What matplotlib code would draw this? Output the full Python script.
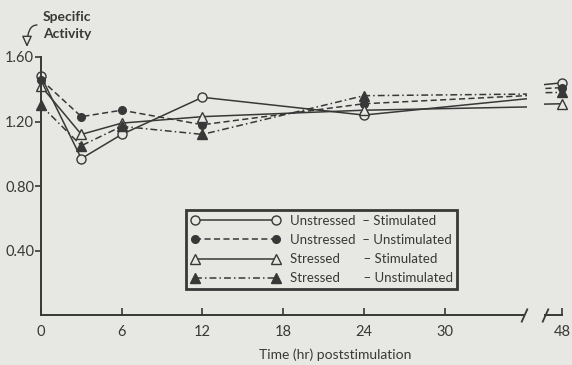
import matplotlib
matplotlib.use("Agg")
import matplotlib.pyplot as plt
from matplotlib.patches import FancyArrowPatch

BG = "#e7e7e3"
INK = "#383838"

plt.rcParams.update({
    "font.family": ["Lato", "DejaVu Sans"],
    "text.color": INK,
    "axes.edgecolor": INK,
    "xtick.color": INK,
    "ytick.color": INK,
})

# hours poststimulation (48 h sits beyond the axis break)
hours = [0, 3, 6, 12, 24, 48]
unstressed_stim = [1.48, 0.97, 1.12, 1.35, 1.24, 1.44]
unstressed_unstim = [1.46, 1.23, 1.27, 1.18, 1.31, 1.41]
stressed_stim = [1.42, 1.12, 1.19, 1.23, 1.27, 1.31]
stressed_unstim = [1.30, 1.05, 1.17, 1.12, 1.36, 1.38]

labels = [
    "Unstressed  \u2013 Stimulated",
    "Unstressed  \u2013 Unstimulated",
    "Stressed       \u2013 Stimulated",
    "Stressed       \u2013 Unstimulated",
]
series = [unstressed_stim, unstressed_unstim, stressed_stim, stressed_unstim]
styles = [
    dict(marker="o", ls="-", mfc=BG),
    dict(marker="o", ls=(0, (4, 2.2)), mfc=INK, ms=5.5),
    dict(marker="^", ls="-", mfc=BG),
    dict(marker="^", ls=(0, (4.5, 2, 1, 2)), mfc=INK),
]
yticks = [0.40, 0.80, 1.20, 1.60]
xticks = [0, 6, 12, 18, 24, 30]

W, H = 572, 365
fig = plt.figure(figsize=(W / 100, H / 100), dpi=100, facecolor=BG)

# pixel calibration of the scan
px_per_hr = 13.45
x0_px, y0_px, px_per_unit = 41, 315, 161.25
brk_px, ax2_px, h48_px = 527, 544, 562

ax1 = fig.add_axes([0, 0, brk_px / W, 1])
ax2 = fig.add_axes([ax2_px / W, 0, (W - ax2_px) / W, 1], sharey=ax1)
for ax in (ax1, ax2):
    ax.set_facecolor("none")
    for s in ("top", "right"):
        ax.spines[s].set_visible(False)
    ax.spines["bottom"].set_position(("data", 0))
    ax.spines["bottom"].set_linewidth(1.4)
    ax.tick_params(axis="x", direction="in", length=5, width=1.2, labelsize=10.5, pad=7)

ax1.set_xlim(-x0_px / px_per_hr, (brk_px - x0_px) / px_per_hr)
ax2.set_xlim(48 - (h48_px - ax2_px) / px_per_hr, 48 + (W - h48_px) / px_per_hr)
ax1.set_ylim((y0_px - H) / px_per_unit, y0_px / px_per_unit)

handles = []
for ys, st, lab in zip(series, styles, labels):
    kw = dict(color=INK, lw=1.1, ms=st.get("ms", 6.5), mec=INK, mew=1.0,
              marker=st["marker"], ls=st["ls"], mfc=st["mfc"])
    h, = ax1.plot(hours, ys, label=lab, **kw)
    ax2.plot(hours, ys, **kw)
    handles.append(h)

ax1.spines["left"].set_position(("data", 0))
ax1.spines["left"].set_bounds(0, 1.60)
ax1.spines["left"].set_linewidth(1.4)
ax1.spines["bottom"].set_bounds(0, 35.9)
ax1.set_yticks(yticks)
ax1.set_yticklabels([f"{v:.2f}" for v in yticks])
ax1.tick_params(axis="y", direction="out", length=4, width=1.2, labelsize=10.5, pad=1)
ax1.set_xticks(xticks)

ax2.spines["left"].set_visible(False)
ax2.spines["bottom"].set_bounds(46.7, 48)
ax2.tick_params(axis="y", left=False, labelleft=False)
ax2.set_xticks([48])

# axis break marks
brk = [(-0.45, -1), (0.45, 1)]
ax1.plot(35.9, 0, marker=brk, ms=10, mew=1.3, color=INK, clip_on=False)
ax2.plot(46.7, 0, marker=brk, ms=10, mew=1.3, color=INK, clip_on=False)

leg = ax1.legend(handles=handles, loc="upper left",
                 bbox_to_anchor=(186 / W, 1 - 210 / H), bbox_transform=fig.transFigure,
                 numpoints=2, handlelength=6.8, handletextpad=0.7, labelspacing=0.55,
                 borderpad=0.35, borderaxespad=0, fontsize=9.5, fancybox=False,
                 framealpha=1, facecolor=BG, edgecolor=INK)
leg.get_frame().set_linewidth(2.0)

fig.text(335 / W, 1 - 355 / H, "Time (hr) poststimulation", ha="center", va="center", fontsize=10)
fig.text(43 / W, 1 - 11 / H, "Specific\nActivity", ha="left", va="top",
         fontsize=10, fontweight="bold", linespacing=1.55)
fig.add_artist(FancyArrowPatch(
    (37 / W, 1 - 25 / H), (27 / W, 1 - 47 / H), transform=fig.transFigure,
    arrowstyle="-|>,head_length=6.5,head_width=3", connectionstyle="angle3,angleA=0,angleB=90",
    fc=BG, ec=INK, lw=1.0, mutation_scale=1, shrinkA=0, shrinkB=0))

fig.savefig("out.png", dpi=100, facecolor=BG)
